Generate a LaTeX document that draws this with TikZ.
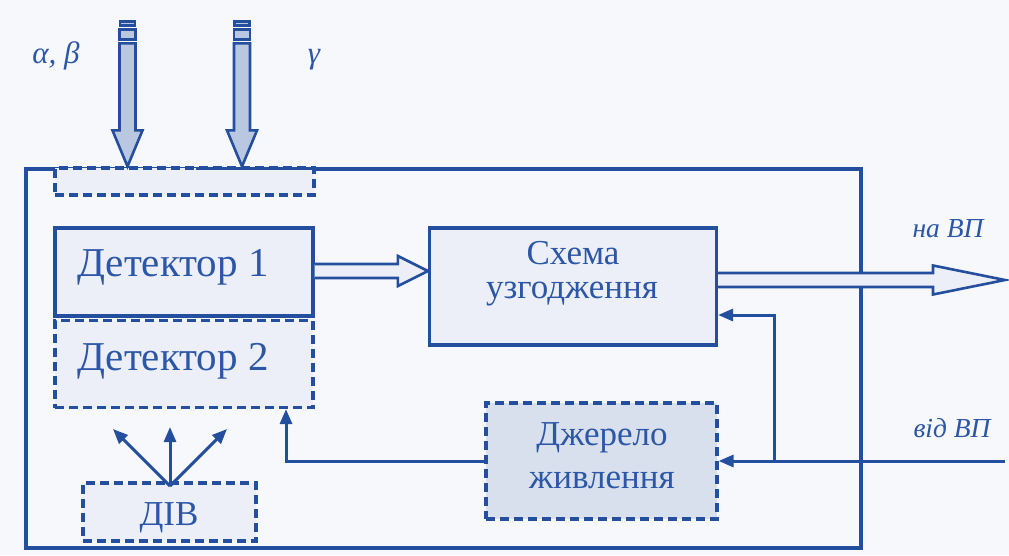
\documentclass[tikz,border=0pt]{standalone}
\usepackage{fontspec}
\setmainfont{Liberation Serif}
\usetikzlibrary{arrows.meta,calc}
\definecolor{lineblue}{RGB}{36,78,158}
\definecolor{textblue}{RGB}{44,86,166}
\definecolor{bgcol}{RGB}{247,248,252}
\definecolor{boxfill}{RGB}{236,239,247}
\definecolor{darkfill}{RGB}{216,223,237}
\definecolor{arrowfill}{RGB}{186,199,224}
\begin{document}
\begin{tikzpicture}[x=1pt,y=-1pt,
  boxsolid/.style={draw=lineblue,line width=3.2pt,fill=boxfill,inner sep=0pt},
  boxdash/.style={boxsolid,dash pattern=on 9pt off 5pt},
  conn/.style={draw=lineblue,line width=3pt,-{Triangle[length=15pt,width=12pt]}},
  fatarrow/.style={draw=lineblue,line width=2.6pt,fill=boxfill,line join=miter},
  droparrow/.style={draw=lineblue,line width=2.6pt,fill=arrowfill},
  lbl/.style={text=textblue,anchor=base,inner sep=0pt},
  big/.style={lbl,font=\fontsize{41}{43}\selectfont},
  mid/.style={lbl,font=\fontsize{35}{37}\selectfont},
  small/.style={lbl,font=\fontsize{27.5}{29}\selectfont\itshape},
  greek/.style={lbl,font=\fontsize{31}{33}\selectfont\itshape},
]
\fill[bgcol] (0,0) rectangle (1009,555);
\useasboundingbox (0,0) rectangle (1009,555);

% outer frame
\node[draw=lineblue,line width=3.4pt,inner sep=0pt,minimum width=835pt,minimum height=379pt] (outer) at (443.5,358.5) {};

% top dashed window
\node[boxdash,minimum width=259pt,minimum height=27pt] (topbox) at (184.5,181.5) {};
\draw[lineblue,line width=3.4pt] ($(outer.north west)+(172,1)$) -- ($(topbox.east |- outer.north)+(0,1)$);

% boxes
\node[boxsolid,minimum width=258pt,minimum height=88pt] (det1) at (184,272) {};
\node[boxdash,minimum width=258pt,minimum height=87pt] (det2) at (184,364) {};
\node[boxsolid,minimum width=287pt,minimum height=117pt] (schema) at (573,286.5) {};
\node[boxdash,fill=darkfill,minimum width=231pt,minimum height=116pt] (dzh) at (601.5,461) {};
\node[boxdash,minimum width=173pt,minimum height=58pt] (div) at (169.5,512) {};

% texts
\node[big] (t1) at (173,276) {Детектор 1};
\node[big] (t2) at (173,370) {Детектор 2};
\node[mid] (t3) at (573,264) {Схема};
\node[mid] (t4) at (572,298) {узгодження};
\node[mid] (t5) at (602,445) {Джерело};
\node[mid] (t6) at (602,488) {живлення};
\node[mid] (t7) at (169,525) {ДІВ};
\node[small] (t8) at (948,237) {на ВП};
\node[small] (t9) at (952,437) {від ВП};
\node[greek] (t10) at (56,63) {α, β};
\node[greek] (t11) at (314,63) {γ};

% radiation arrows from top
\coordinate (ra) at (127.5,0 |- topbox.north);
\coordinate (rg) at (242,0 |- topbox.north);
\foreach \c in {ra,rg}{
  \draw[droparrow] ($(\c)+(-8,-123)$) -- ($(\c)+(-8,-36)$) -- ($(\c)+(-15,-36)$) -- (\c)
     -- ($(\c)+(15,-36)$) -- ($(\c)+(8,-36)$) -- ($(\c)+(8,-123)$) -- cycle;
  \draw[droparrow] ($(\c)+(-8,-137)$) rectangle ($(\c)+(8,-127)$);
  \draw[droparrow] ($(\c)+(-7.5,-145)$) rectangle ($(\c)+(7.5,-141)$);
}

% hollow arrow detector 1 -> schema
\coordinate (h1s) at (det1.east |- 0,271);
\coordinate (h1t) at (schema.west |- h1s);
\draw[fatarrow] ($(h1s)+(0,-7)$) -- ($(h1t)+(-30,-7)$) -- ($(h1t)+(-30,-15)$) -- (h1t)
   -- ($(h1t)+(-30,15)$) -- ($(h1t)+(-30,7)$) -- ($(h1s)+(0,7)$);

% output hollow arrow
\coordinate (o1) at (schema.east |- 0,280);
\coordinate (naout) at (1005,280);
\draw[fatarrow] ($(o1)+(0,-7)$) -- ($(naout)+(-72,-7)$) -- ($(naout)+(-72,-14.5)$) -- (naout)
   -- ($(naout)+(-72,14.5)$) -- ($(naout)+(-72,7)$) -- ($(o1)+(0,7)$);

% input from VP
\coordinate (vidin) at (1005,461);
\coordinate (branch) at (774,461);
\draw[conn] (vidin) -- (dzh.east);
\draw[conn] (branch) -- (774,315) -- (schema.east |- 0,315);

% power supply -> detector 2
\draw[conn] (dzh.west) -- (286,461) -- (286,0 |- det2.south);

% DIV radiation
\coordinate (d0) at (170,486);
\coordinate (d1) at (113,429);
\coordinate (d2) at (170,427);
\coordinate (d3) at (227,429);
\draw[conn] (d0) -- (d1);
\draw[conn] (d0) -- (d2);
\draw[conn] (d0) -- (d3);
\end{tikzpicture}
\end{document}
